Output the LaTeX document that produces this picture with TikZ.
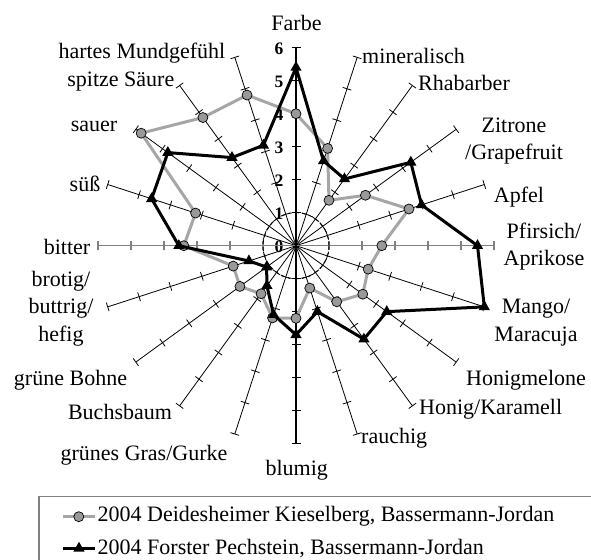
\documentclass[tikz,border=0pt]{standalone}
\usepackage{fontspec}
\setmainfont{Liberation Serif}
\usetikzlibrary{shapes}
\tikzstyle{lbl}=[inner sep=0pt,align=center,font=\fontsize{22}{27.5}\selectfont]
\tikzstyle{val}=[inner sep=0pt,font=\fontsize{17.5}{20}\selectfont\bfseries]
\tikzstyle{spoke}=[black,line width=0.8pt]
\tikzstyle{dotg}=[circle,draw=black,fill=black!40,line width=0.7pt,inner sep=0pt,minimum size=10pt]
\tikzstyle{trib}=[regular polygon,regular polygon sides=3,fill=black,inner sep=0pt,minimum size=13pt]
\tikzstyle{gline}=[black!35,line width=3pt,line join=round]
\tikzstyle{bline}=[black,line width=3pt,line join=round]

\begin{document}
\begin{tikzpicture}[x=1pt,y=1pt]
	\useasboundingbox (0,0) rectangle (591,559);
	%% value labels
	\foreach \k in {0,...,6}
	  \node[val,anchor=east] (v\k) at (283.5,{311.8+33*\k}) {\k};
	%%
	\begin{scope}[shift={(296,313.3)},x=33pt,y=33pt]
	  % spokes
	  \foreach \a in {72,54,36,18,-18,-36,-54,-72,-108,-126,-144,-162,162,144,126,108}{
	    \draw[spoke] (0,0) -- (\a:6);
	    \foreach \r in {1,...,6}
	      \draw[spoke] (\a:\r) ++(\a+90:4.5pt) -- ++(\a-90:9pt);
	  }
	  \draw[black!50,line width=1.5pt] (180:6) -- (0:6);
	  \foreach \a in {0,180}
	    \foreach \r in {1,...,6}
	      \draw[black!50,line width=1.2pt] (\a:\r) ++(\a+90:4.5pt) -- ++(\a-90:9pt);
	  \draw[black,line width=1.2pt] (90:6) -- (-90:6);
	  \foreach \a in {90,-90}
	    \foreach \r in {1,...,6}
	      \draw[black,line width=1.2pt] (\a:\r) ++(\a+90:4.5pt) -- ++(\a-90:9pt);
	  \draw[black,line width=0.9pt,dash pattern=on 4pt off 3pt] (0,0) circle (1);
	  %% Deidesheimer Kieselberg
	  \coordinate (g0) at (90:4.0);
	  \coordinate (g1) at (72:3.1);
	  \coordinate (g2) at (54:1.7);
	  \coordinate (g3) at (36:2.6);
	  \coordinate (g4) at (18:3.6);
	  \coordinate (g5) at (0:2.6);
	  \coordinate (g6) at (-18:2.3);
	  \coordinate (g7) at (-36:2.5);
	  \coordinate (g8) at (-54:2.1);
	  \coordinate (g9) at (-72:1.35);
	  \coordinate (g10) at (-90:2.2);
	  \coordinate (g11) at (-108:2.3);
	  \coordinate (g12) at (-126:1.8);
	  \coordinate (g13) at (-144:2.1);
	  \coordinate (g14) at (-162:2.0);
	  \coordinate (g15) at (180:3.4);
	  \coordinate (g16) at (162:3.2);
	  \coordinate (g17) at (144:5.8);
	  \coordinate (g18) at (126:4.8);
	  \coordinate (g19) at (108:4.8);
	  \draw[gline] (g0) -- (g1) -- (g2) -- (g3) -- (g4) -- (g5) -- (g6) -- (g7) -- (g8) -- (g9)
	    -- (g10) -- (g11) -- (g12) -- (g13) -- (g14) -- (g15) -- (g16) -- (g17) -- (g18) -- (g19) -- cycle;
	  \foreach \i in {0,...,19}
	    \node[dotg] (mg\i) at (g\i) {};
	  %% Forster Pechstein
	  \coordinate (b0) at (90:5.4);
	  \coordinate (b1) at (72:2.7);
	  \coordinate (b2) at (54:2.5);
	  \coordinate (b3) at (36:4.3);
	  \coordinate (b4) at (18:4.0);
	  \coordinate (b5) at (0:5.5);
	  \coordinate (b6) at (-18:6.0);
	  \coordinate (b7) at (-36:3.4);
	  \coordinate (b8) at (-54:3.5);
	  \coordinate (b9) at (-72:2.1);
	  \coordinate (b10) at (-90:2.7);
	  \coordinate (b11) at (-108:2.2);
	  \coordinate (b12) at (-126:1.5);
	  \coordinate (b13) at (-144:1.1);
	  \coordinate (b14) at (-162:1.5);
	  \coordinate (b15) at (180:3.55);
	  \coordinate (b16) at (162:4.6);
	  \coordinate (b17) at (144:4.8);
	  \coordinate (b18) at (126:3.3);
	  \coordinate (b19) at (108:3.2);
	  \draw[bline] (b0) -- (b1) -- (b2) -- (b3) -- (b4) -- (b5) -- (b6) -- (b7) -- (b8) -- (b9)
	    -- (b10) -- (b11) -- (b12) -- (b13) -- (b14) -- (b15) -- (b16) -- (b17) -- (b18) -- (b19) -- cycle;
	  \foreach \i in {0,...,19}
	    \node[trib] (mb\i) at (b\i) {};
	\end{scope}
	%% axis labels
	\node[lbl] (lFarbe) at (296.5,535.7) {Farbe};
	\node[lbl,anchor=west] (lMin) at (362,503) {mineralisch};
	\node[lbl,anchor=west] (lRha) at (418,475.7) {Rhabarber};
	\node[lbl] (lZit) at (514,418) {Zitrone\\/Grapefruit};
	\node[lbl] (lApf) at (519,361.7) {Apfel};
	\node[lbl] (lPfi) at (544,312.3) {Pfirsich/\\Aprikose};
	\node[lbl] (lMan) at (536,236.5) {Mango/\\Maracuja};
	\node[lbl] (lHme) at (526,179) {Honigmelone};
	\node[lbl,anchor=west] (lHka) at (419,149.7) {Honig/Karamell};
	\node[lbl,anchor=west] (lRau) at (361,120.7) {rauchig};
	\node[lbl] (lBlu) at (296.7,89) {blumig};
	\node[lbl] (lGra) at (144,104) {grünes Gras/Gurke};
	\node[lbl] (lBuc) at (120,147.3) {Buchsbaum};
	\node[lbl] (lBoh) at (70.5,179) {grüne Bohne};
	\node[lbl] (lBro) at (61,250.7) {brotig/\\buttrig/\\hefig};
	\node[lbl,anchor=east] (lBit) at (90.5,312.3) {bitter};
	\node[lbl,anchor=east] (lSue) at (100.5,374.7) {süß};
	\node[lbl] (lSau) at (94,432.3) {sauer};
	\node[lbl,anchor=east] (lSpi) at (174.5,477.3) {spitze Säure};
	\node[lbl,anchor=east] (lHar) at (225.5,505.7) {hartes Mundgefühl};
	%% legend
	\draw[black!50,line width=1.2pt] (39,62.3) rectangle (600,-10);
	\coordinate (k1a) at (62.7,42.3);
	\coordinate (k1b) at (95,42.3);
	\coordinate (k2a) at (62.7,10.7);
	\coordinate (k2b) at (95,10.7);
	\draw[gline] (k1a) -- (k1b);
	\node[dotg] (k1) at (78.8,42.3) {};
	\draw[bline] (k2a) -- (k2b);
	\node[trib] (k2) at (79,10.7) {};
	\node[lbl,anchor=west] (lg1) at (97.5,42.3) {2004 Deidesheimer Kieselberg, Bassermann-Jordan};
	\node[lbl,anchor=west] (lg2) at (97.5,10.7) {2004 Forster Pechstein, Bassermann-Jordan};
\end{tikzpicture}
\end{document}
